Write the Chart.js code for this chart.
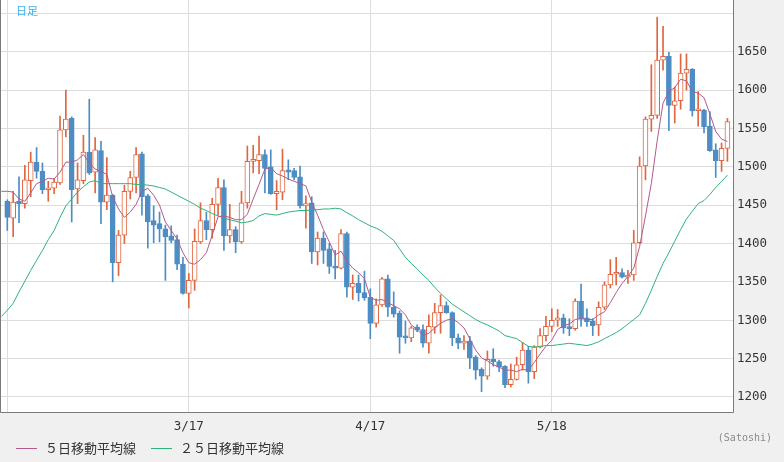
<!DOCTYPE html>
<html>
<head>
<meta charset="utf-8">
<script src="https://cdn.jsdelivr.net/npm/chart.js@4/dist/chart.umd.min.js"></script>
<style>
  html, body { margin: 0; padding: 0; background: #f0f0f0; }
  #wrap { width: 784px; height: 462px; }
</style>
</head>
<body>
<div id="wrap"><canvas id="chartCanvas" width="784" height="462"></canvas></div>
<script>
// Daily candles, one per calendar day starting 2/14 (index 0).
const opens = [
  1455, 1433, 1455, 1452, 1482, 1506, 1494, 1470, 1472, 1479,
  1548, 1563, 1471, 1482, 1519, 1493, 1521, 1454, 1463, 1375,
  1411, 1468, 1486, 1517, 1462, 1430, 1426, 1419, 1410, 1405,
  1373, 1335, 1352, 1402, 1430, 1418, 1451, 1473, 1410, 1418,
  1402, 1453, 1507, 1508, 1516, 1500, 1465, 1467, 1496, 1495,
  1487, 1449, 1453, 1389, 1407, 1393, 1370, 1368, 1413, 1343,
  1348, 1336, 1330, 1296, 1320, 1354, 1317, 1309, 1279, 1277,
  1291, 1288, 1270, 1291, 1310, 1319, 1310, 1277, 1270, 1273,
  1252, 1236, 1227, 1249, 1246, 1240, 1216, 1223, 1242, 1261,
  1233, 1265, 1280, 1292, 1300, 1303, 1291, 1289, 1325, 1303,
  1299, 1294, 1317, 1346, 1360, 1362, 1356, 1359, 1401, 1501,
  1562, 1567, 1639, 1644, 1580, 1586, 1622, 1627, 1573, 1574,
  1553, 1522, 1508, 1524
];
const highs = [
  1457, 1468, 1487, 1502, 1519, 1525, 1505, 1481, 1485, 1566,
  1600, 1565, 1505, 1541, 1588, 1538, 1533, 1512, 1464, 1417,
  1476, 1494, 1525, 1519, 1464, 1449, 1441, 1424, 1423, 1411,
  1382, 1361, 1419, 1453, 1441, 1459, 1485, 1483, 1451, 1422,
  1468, 1527, 1528, 1540, 1522, 1522, 1482, 1523, 1509, 1498,
  1501, 1462, 1461, 1415, 1415, 1400, 1391, 1418, 1415, 1359,
  1359, 1364, 1341, 1328, 1356, 1359, 1337, 1312, 1299, 1292,
  1294, 1294, 1307, 1322, 1333, 1324, 1311, 1282, 1280, 1279,
  1254, 1238, 1260, 1263, 1248, 1241, 1243, 1252, 1271, 1266,
  1267, 1289, 1305, 1315, 1314, 1308, 1302, 1328, 1347, 1315,
  1302, 1324, 1350, 1379, 1382, 1367, 1365, 1417, 1513, 1565,
  1633, 1695, 1683, 1649, 1604, 1647, 1647, 1628, 1598, 1575,
  1572, 1530, 1531, 1563
];
const lows = [
  1417, 1409, 1427, 1446, 1461, 1485, 1465, 1455, 1465, 1477,
  1539, 1428, 1452, 1478, 1490, 1466, 1426, 1444, 1350, 1358,
  1400, 1458, 1466, 1437, 1394, 1401, 1402, 1352, 1401, 1366,
  1334, 1316, 1339, 1400, 1405, 1407, 1437, 1391, 1401, 1388,
  1400, 1446, 1492, 1491, 1466, 1464, 1444, 1457, 1483, 1483,
  1446, 1420, 1374, 1372, 1374, 1361, 1354, 1367, 1330, 1327,
  1325, 1326, 1276, 1291, 1318, 1305, 1304, 1257, 1270, 1272,
  1285, 1265, 1257, 1283, 1283, 1309, 1267, 1263, 1262, 1237,
  1223, 1207, 1223, 1240, 1233, 1212, 1213, 1222, 1235, 1218,
  1224, 1264, 1273, 1285, 1292, 1283, 1280, 1287, 1292, 1292,
  1280, 1280, 1314, 1342, 1346, 1355, 1348, 1352, 1400, 1483,
  1546, 1563, 1626, 1547, 1557, 1575, 1600, 1566, 1553, 1544,
  1520, 1486, 1494, 1507
];
const closes = [
  1434, 1454, 1452, 1483, 1506, 1494, 1470, 1471, 1480, 1548,
  1562, 1470, 1483, 1519, 1492, 1522, 1454, 1463, 1375, 1411,
  1468, 1486, 1516, 1461, 1428, 1424, 1419, 1409, 1404, 1373,
  1335, 1352, 1403, 1430, 1418, 1451, 1473, 1410, 1418, 1402,
  1453, 1507, 1509, 1516, 1498, 1465, 1468, 1495, 1493, 1486,
  1449, 1452, 1389, 1407, 1391, 1370, 1368, 1413, 1343, 1348,
  1336, 1329, 1296, 1320, 1354, 1317, 1308, 1278, 1277, 1290,
  1287, 1270, 1292, 1310, 1319, 1310, 1277, 1270, 1273, 1251,
  1235, 1227, 1249, 1246, 1239, 1216, 1223, 1242, 1261, 1233,
  1265, 1280, 1292, 1300, 1303, 1290, 1289, 1325, 1302, 1298,
  1293, 1317, 1346, 1360, 1362, 1356, 1359, 1401, 1501, 1562,
  1567, 1639, 1644, 1580, 1586, 1622, 1627, 1573, 1574, 1552,
  1521, 1508, 1524, 1559
];
// Moving averages start one day earlier (2/13), at the left edge.
const ma5 = [
  1468,
  1468, 1467, 1458, 1455, 1466, 1478, 1481, 1485, 1484, 1493,
  1506, 1506, 1509, 1516, 1505, 1497, 1494, 1490, 1461, 1445,
  1434, 1441, 1451, 1468, 1472, 1463, 1450, 1428, 1417, 1406,
  1388, 1375, 1373, 1379, 1388, 1411, 1435, 1436, 1434, 1431,
  1431, 1438, 1458, 1477, 1497, 1499, 1491, 1488, 1484, 1481,
  1478, 1475, 1454, 1437, 1418, 1402, 1385, 1390, 1377, 1368,
  1362, 1354, 1330, 1326, 1327, 1323, 1319, 1315, 1307, 1294,
  1288, 1280, 1283, 1290, 1296, 1300, 1302, 1297, 1290, 1276,
  1261, 1251, 1247, 1242, 1239, 1235, 1235, 1233, 1236, 1235,
  1245, 1256, 1266, 1274, 1288, 1293, 1295, 1301, 1302, 1301,
  1301, 1307, 1311, 1323, 1336, 1348, 1357, 1368, 1396, 1436,
  1478, 1534, 1583, 1598, 1603, 1614, 1612, 1598, 1596, 1590,
  1569, 1546, 1536, 1533
];
const ma25 = [
  1305,
  1313, 1322, 1337, 1351, 1365, 1378, 1391, 1405, 1417, 1434,
  1449, 1458, 1467, 1474, 1480, 1482, 1478, 1478, 1478, 1478,
  1478, 1478, 1477, 1477, 1476, 1475, 1473, 1471, 1467, 1463,
  1459, 1455, 1451, 1446, 1443, 1439, 1436, 1433, 1431, 1429,
  1427, 1428, 1430, 1436, 1439, 1438, 1437, 1439, 1441, 1442,
  1443, 1443, 1444, 1444, 1445, 1445, 1446, 1445, 1440, 1436,
  1431, 1427, 1423, 1420, 1416, 1410, 1404, 1393, 1382, 1374,
  1367, 1359, 1352, 1343, 1335, 1328, 1321, 1316, 1311, 1306,
  1301, 1297, 1294, 1290, 1286, 1280, 1278, 1276, 1271, 1266,
  1265, 1266, 1267, 1267, 1268, 1269, 1270, 1269, 1268, 1267,
  1269, 1272, 1276, 1280, 1284, 1289, 1295, 1301, 1307, 1322,
  1339, 1357, 1374, 1388, 1403, 1418, 1432, 1442, 1452, 1456,
  1464, 1473, 1481, 1489
];
const xTickDays = [0, 31, 62, 93];
const xTickLabels = ['', '3/17', '4/17', '5/18'];
const yGridValues = [1200, 1250, 1300, 1350, 1400, 1450, 1500, 1550, 1600, 1650, 1700];
const yTickLabels = [1200, 1250, 1300, 1350, 1400, 1450, 1500, 1550, 1600, 1650];
const legendNames = ['５日移動平均線', '２５日移動平均線'];

const UP = '#e0663f';
const DOWN = '#4d8dc4';
const MA5_COLOR = '#b35a8c';
const MA25_COLOR = '#2fb37a';

const isUp = (i) => closes[i] >= opens[i];

const wickData = lows.map((l, i) => ({ x: i, y: [l, highs[i]] }));
const bodyData = opens.map((o, i) => ({ x: i, y: [o, closes[i]] }));
const ma5Data = ma5.map((v, i) => ({ x: i - 1, y: v }));
const ma25Data = ma25.map((v, i) => ({ x: i - 1, y: v }));

// Background, frame and the texts outside the library's own layout.
const decorPlugin = {
  id: 'decor',
  beforeDraw(chart) {
    const { ctx, chartArea: a } = chart;
    ctx.save();
    ctx.fillStyle = '#f0f0f0';
    ctx.fillRect(0, 0, chart.width, chart.height);
    ctx.fillStyle = '#ffffff';
    ctx.fillRect(a.left, a.top, a.right - a.left, a.bottom - a.top);
    ctx.restore();
  },
  afterDraw(chart) {
    const { ctx, chartArea: a } = chart;
    ctx.save();
    ctx.strokeStyle = '#7a7a7a';
    ctx.lineWidth = 1;
    ctx.beginPath();
    ctx.moveTo(a.left - 0.5, a.top);
    ctx.lineTo(a.left - 0.5, a.bottom + 0.5);
    ctx.lineTo(a.right + 0.5, a.bottom + 0.5);
    ctx.lineTo(a.right + 0.5, a.top);
    ctx.stroke();

    ctx.fillStyle = '#3aaee6';
    ctx.font = '11px "Noto Sans CJK JP"';
    ctx.textBaseline = 'middle';
    ctx.fillText('日足', 16, 11);

    // legend
    const colors = [MA5_COLOR, MA25_COLOR];
    const starts = [16, 151];
    ctx.font = '13px "Noto Sans CJK JP"';
    legendNames.forEach((name, k) => {
      ctx.strokeStyle = colors[k];
      ctx.beginPath();
      ctx.moveTo(starts[k], 448.5);
      ctx.lineTo(starts[k] + 21, 448.5);
      ctx.stroke();
      ctx.fillStyle = '#333333';
      ctx.fillText(name, starts[k] + 29, 448);
    });

    ctx.fillStyle = '#8a8a8a';
    ctx.font = '10px "DejaVu Sans Mono"';
    ctx.textAlign = 'right';
    ctx.fillText('(Satoshi)', 772, 438);
    ctx.restore();
  }
};

new Chart(document.getElementById('chartCanvas').getContext('2d'), {
  type: 'bar',
  data: {
    datasets: [
      {
        type: 'line',
        data: ma5Data,
        borderColor: MA5_COLOR,
        borderWidth: 1,
        pointRadius: 0,
        tension: 0,
        order: 0
      },
      {
        type: 'line',
        data: ma25Data,
        borderColor: MA25_COLOR,
        borderWidth: 1,
        pointRadius: 0,
        tension: 0,
        order: 0
      },
      {
        data: bodyData,
        grouped: false,
        barThickness: 5,
        minBarLength: 2,
        borderWidth: 1,
        borderSkipped: false,
        backgroundColor: (c) => (isUp(c.dataIndex) ? '#ffffff' : DOWN),
        borderColor: (c) => (isUp(c.dataIndex) ? UP : DOWN),
        order: 1
      },
      {
        data: wickData,
        grouped: false,
        barThickness: 1,
        borderWidth: 0,
        backgroundColor: (c) => (isUp(c.dataIndex) ? UP : DOWN),
        order: 2
      }
    ]
  },
  options: {
    responsive: false,
    animation: false,
    layout: { padding: { left: 1, top: 0, right: 0, bottom: 0 } },
    plugins: {
      legend: { display: false },
      tooltip: { enabled: false }
    },
    scales: {
      x: {
        type: 'linear',
        min: -1.076,
        max: 123.95,
        offset: false,
        afterBuildTicks: (scale) => { scale.ticks = xTickDays.map((v) => ({ value: v })); },
        afterFit: (scale) => {
          scale.height = 50;
          scale.paddingLeft = 0;
          scale.paddingRight = 0;
        },
        grid: { color: '#dddddd', drawTicks: false, offset: false },
        border: { display: false },
        ticks: {
          padding: 7,
          maxRotation: 0,
          autoSkip: false,
          color: '#333333',
          font: { family: 'DejaVu Sans Mono', size: 12.5 },
          callback: (v) => xTickLabels[xTickDays.indexOf(v)]
        }
      },
      y: {
        position: 'right',
        min: 1180.45,
        max: 1717.3,
        afterBuildTicks: (scale) => { scale.ticks = yGridValues.map((v) => ({ value: v })); },
        afterFit: (scale) => {
          scale.width = 51;
          scale.paddingTop = 0;
          scale.paddingBottom = 0;
        },
        grid: { color: '#dddddd', drawTicks: false },
        border: { display: false },
        ticks: {
          padding: 4,
          color: '#333333',
          font: { family: 'DejaVu Sans Mono', size: 12.5 },
          callback: (v) => (yTickLabels.includes(v) ? String(v) : '')
        }
      }
    }
  },
  plugins: [decorPlugin]
});
</script>
</body>
</html>
